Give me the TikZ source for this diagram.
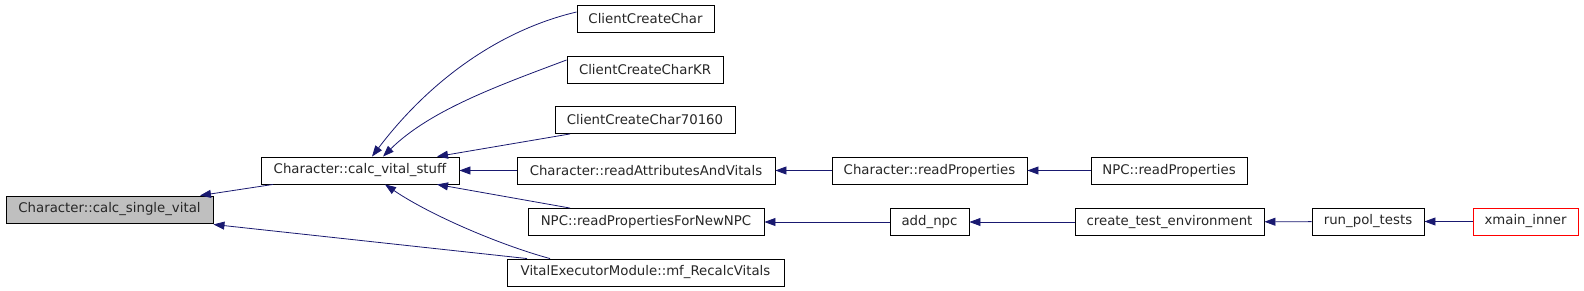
\documentclass[tikz,border=0pt]{standalone}
\usepackage{fontspec}
\setmainfont{DejaVu Sans}
\usetikzlibrary{arrows.meta}
\definecolor{edgec}{HTML}{191970}
\definecolor{grayfill}{HTML}{BFBFBF}
\begin{document}
\begin{tikzpicture}[x=1pt,y=-1pt,
  box/.style={draw=black,line width=0.9pt,fill=white,inner sep=0pt,minimum height=27pt,
    font=\fontsize{13.3}{16}\selectfont,text=black!85},
  edge/.style={draw=edgec,line width=0.8pt,-{Triangle[length=11pt,width=8pt]}}]
\useasboundingbox (0,0) rectangle (1584,291);
\node[box,fill=grayfill,minimum width=207pt] (csv) at (109.5,209.5) {Character::calc\_single\_vital};
\node[box,minimum width=198pt] (cvs) at (360,170.5) {Character::calc\_vital\_stuff};
\node[box,minimum width=137pt] (ccc) at (645.5,18.5) {ClientCreateChar};
\node[box,minimum width=156pt] (cckr) at (645,70) {ClientCreateCharKR};
\node[box,minimum width=180pt] (cc7) at (645,120) {ClientCreateChar70160};
\node[box,minimum width=258pt] (rav) at (646,170.5) {Character::readAttributesAndVitals};
\node[box,minimum width=236pt] (rpnn) at (646,222) {NPC::readPropertiesForNewNPC};
\node[box,minimum width=277pt] (mfr) at (645.5,272.5) {VitalExecutorModule::mf\_RecalcVitals};
\node[box,minimum width=195pt] (crp) at (929.5,170.5) {Character::readProperties};
\node[box,minimum width=156pt] (nrp) at (1169,170.5) {NPC::readProperties};
\node[box,minimum width=79pt] (addnpc) at (929.5,222) {add\_npc};
\node[box,minimum width=189pt] (cte) at (1169.5,222) {create\_test\_environment};
\node[box,minimum width=112pt] (rpt) at (1368,221.5) {run\_pol\_tests};
\node[box,draw=red,minimum width=105pt] (xmi) at (1525.5,221.5) {xmain\_inner};

% edges into calc_single_vital
\draw[edge] ([xshift=-87pt]cvs.south) -- ([xshift=90.5pt]csv.north);
\draw[edge] ([xshift=-118.5pt]mfr.north) -- ([yshift=-1pt]csv.south east);
% edges into calc_vital_stuff
\draw[edge] ([yshift=6.5pt]ccc.west) .. controls (500,30) and (430,80) .. ([xshift=12pt]cvs.north);
\draw[edge] ([yshift=10pt]cckr.west) .. controls (500,85) and (430,110) .. ([xshift=23pt]cvs.north);
\draw[edge] ([xshift=-75pt]cc7.south) -- ([xshift=77pt]cvs.north);
\draw[edge] (rav) -- (cvs);
\draw[edge] ([xshift=-76pt]rpnn.north) -- ([xshift=77pt]cvs.south);
\draw[edge] ([xshift=-95.5pt]mfr.north) .. controls (500,245) and (430,215) .. ([xshift=25pt]cvs.south);
% chains
\draw[edge] (crp) -- (rav);
\draw[edge] (nrp) -- (crp);
\draw[edge] (addnpc) -- (rpnn);
\draw[edge] (cte) -- (addnpc);
\draw[edge] (rpt) -- (cte);
\draw[edge] (xmi) -- (rpt);
\end{tikzpicture}
\end{document}
